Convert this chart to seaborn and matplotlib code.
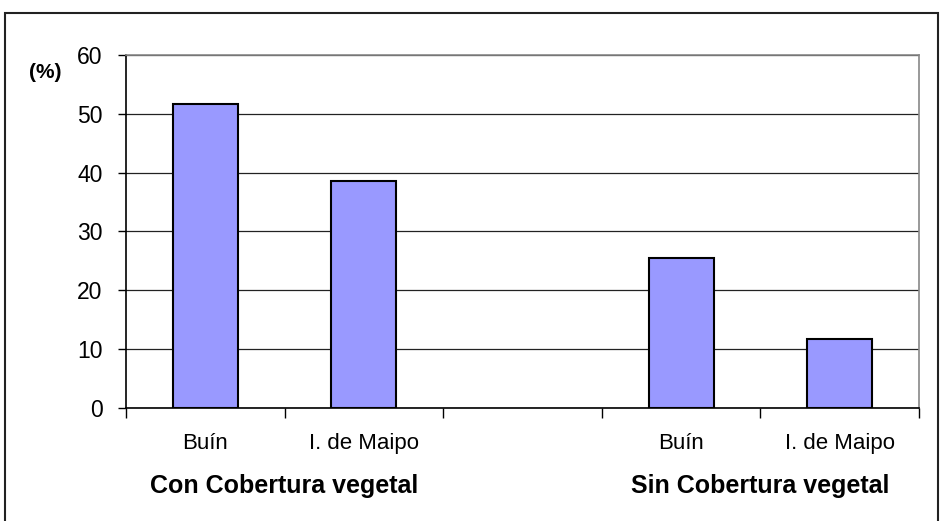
import numpy as np
import pandas as pd
import matplotlib.pyplot as plt
import seaborn as sns
from matplotlib.patches import Rectangle

groups = ["Con Cobertura vegetal", "Sin Cobertura vegetal"]
sites = ["Buín", "I. de Maipo"]
con_values = [51.7, 38.5]
sin_values = [25.5, 11.8]
y_ticks = [0, 10, 20, 30, 40, 50, 60]


def main() -> None:
    sns.set_style("white")
    plt.rcParams["font.family"] = ["Liberation Sans", "DejaVu Sans"]
    plt.rcParams["text.color"] = "black"
    plt.rcParams["xtick.color"] = "black"
    plt.rcParams["ytick.color"] = "black"

    slots = ["con_0", "con_1", "gap", "sin_0", "sin_1"]
    slot_labels = sites + [""] + sites
    df = pd.DataFrame({
        "slot": ["con_0", "con_1", "sin_0", "sin_1"],
        "value": con_values + sin_values,
    })

    fig = plt.figure(figsize=(9.48, 5.21), dpi=100)
    ax = fig.add_axes([126 / 948, 1 - 408 / 521, (919 - 126) / 948, (408 - 55) / 521])

    sns.barplot(data=df, x="slot", y="value", order=slots, color="#9999FF",
                saturation=1, width=0.41, edgecolor="black", linewidth=1.5, ax=ax, zorder=3)

    ax.set_xlim(-0.5, 4.5)
    ax.set_ylim(0, 60)
    ax.set_yticks(y_ticks)
    ax.set_yticklabels([str(t) for t in y_ticks], fontsize=16.5)
    ax.yaxis.grid(True, color="#222222", linewidth=0.9, zorder=0)
    ax.set_axisbelow(True)

    ax.set_xticks(range(len(slots)))
    ax.set_xticklabels(slot_labels, fontsize=16)
    ax.set_xticks(np.arange(-0.5, 5, 1), minor=True)
    ax.tick_params(axis="x", which="major", bottom=True, length=0, pad=18)
    ax.tick_params(axis="x", which="minor", bottom=True, length=7, width=1,
                   color="black", direction="out")
    ax.tick_params(axis="y", which="major", left=True, length=6, width=1,
                   color="black", direction="out", pad=11)
    ax.set_xlabel("")
    ax.set_ylabel("")

    for side in ["left", "bottom"]:
        ax.spines[side].set_color("black")
        ax.spines[side].set_linewidth(1.2)
    for side in ["top", "right"]:
        ax.spines[side].set_color("#888888")
        ax.spines[side].set_linewidth(1.2)

    for pos, name in zip([0.5, 3.5], groups):
        ax.text(pos, -0.222, name, transform=ax.get_xaxis_transform(),
                ha="center", va="center", fontsize=18, fontweight="bold")

    fig.text(45 / 948, 1 - 72 / 521, "(%)", ha="center", va="center",
             fontsize=15, fontweight="bold")

    fig.patches.append(Rectangle((5 / 948, -0.05), (938 - 5) / 948, 1.05 - 13 / 521,
                                 transform=fig.transFigure, fill=False,
                                 edgecolor="#222222", linewidth=1.5))

    fig.savefig("out.png", dpi=100)


if __name__ == "__main__":
    main()
